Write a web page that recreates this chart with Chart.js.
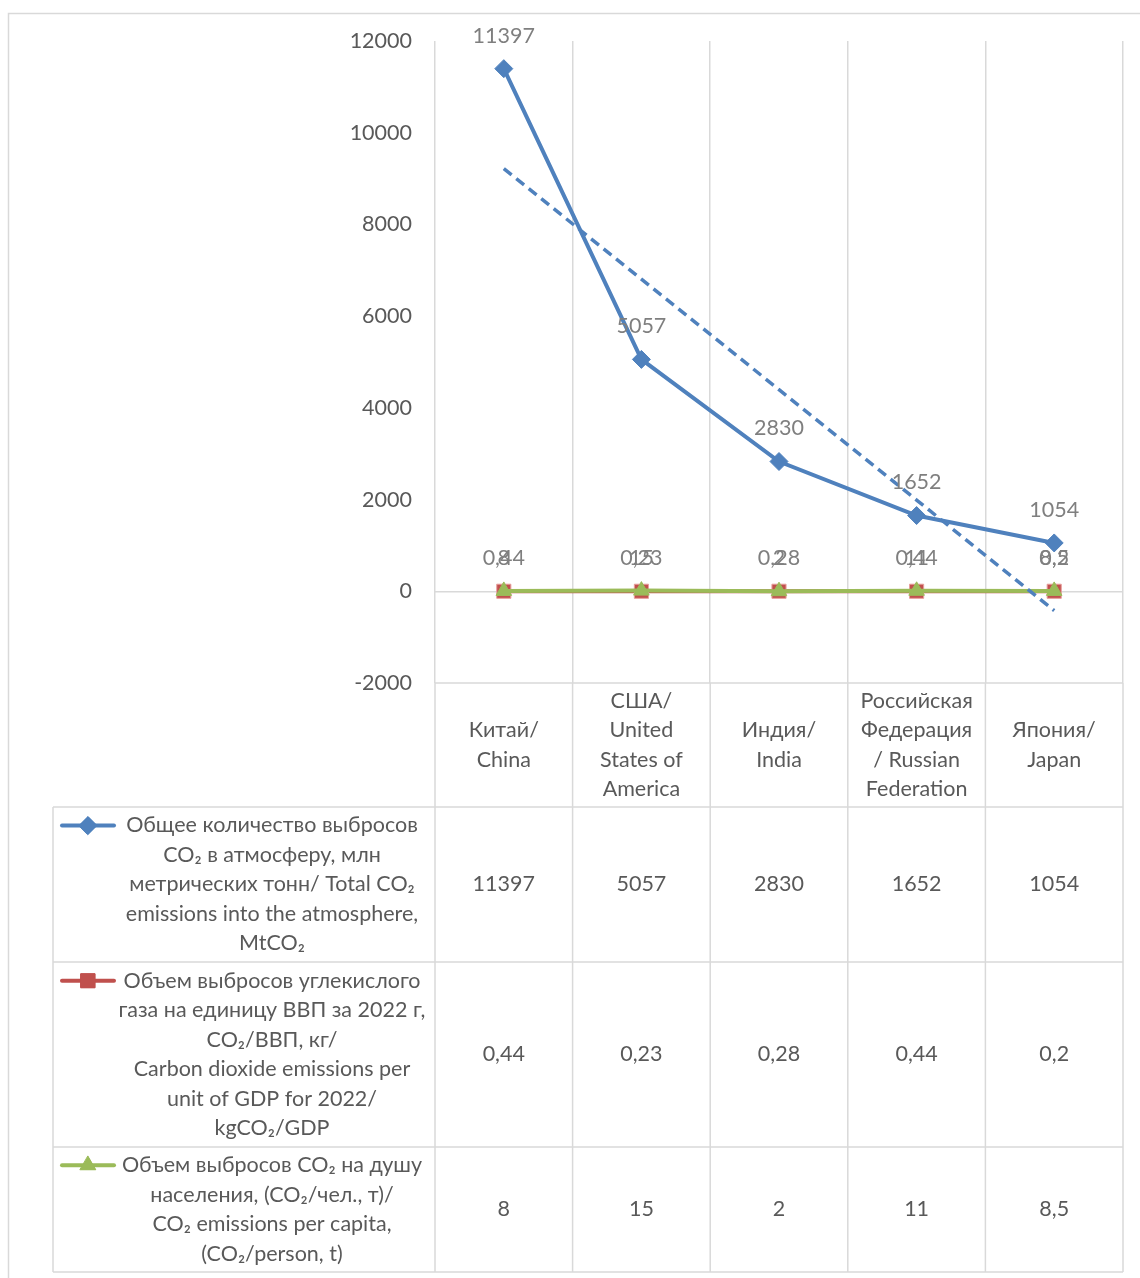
<!DOCTYPE html>
<html lang="ru">
<head>
<meta charset="utf-8">
<title>Выбросы CO₂</title>
<script src="https://cdn.jsdelivr.net/npm/chart.js@4.4.1/dist/chart.umd.min.js"></script>
<style>
  html, body { margin: 0; padding: 0; background: #ffffff; }
  #wrap { width: 1140px; height: 1278px; }
</style>
</head>
<body>
<div id="wrap"><canvas id="chart" width="1140" height="1278"></canvas></div>
<script>
// Countries (category labels, one entry per text line)
const categories = [
  ["Китай/", "China"],
  ["США/", "United", "States of", "America"],
  ["Индия/", "India"],
  ["Российская", "Федерация", "/ Russian", "Federation"],
  ["Япония/", "Japan"]
];

// Series values
const totalEmissions = [11397, 5057, 2830, 1652, 1054];
const emissionsPerGdp = [0.44, 0.23, 0.28, 0.44, 0.2];
const emissionsPerCapita = [8, 15, 2, 11, 8.5];

// Series names as shown in the data table
const totalName = ["Общее количество выбросов", "CO₂ в атмосферу, млн", "метрических тонн/ Total CO₂", "emissions into the atmosphere,", "MtCO₂"];
const gdpName = ["Объем выбросов углекислого", "газа на единицу ВВП за 2022 г,", "CO₂/ВВП, кг/", "Carbon dioxide emissions per", "unit of GDP for 2022/", "kgCO₂/GDP"];
const capitaName = ["Объем выбросов CO₂ на душу", "населения, (CO₂/чел., т)/", "CO₂ emissions per capita,", "(CO₂/person, t)"];

// Value axis
const yMin = -2000;
const yMax = 12000;
const yStep = 2000;

// Linear trend of total emissions (least squares over category index)
function linearTrend(values) {
  const n = values.length;
  const xs = values.map((_, i) => i + 1);
  const mx = xs.reduce((a, b) => a + b, 0) / n;
  const my = values.reduce((a, b) => a + b, 0) / n;
  let num = 0, den = 0;
  xs.forEach((x, i) => { num += (x - mx) * (values[i] - my); den += (x - mx) * (x - mx); });
  const slope = num / den;
  return xs.map(x => my + slope * (x - mx));
}

const BLUE = '#4F81BD', RED = '#C0504D', GREEN = '#9BBB59';
const GRID = '#d9d9d9';
const FONT = 'Lato, "Open Sans", sans-serif';
const FONT_SIZE = 21.5;
const fmt = v => String(v).replace('.', ',');

const seriesRows = [
  { name: totalName, values: totalEmissions, color: BLUE, style: 'rectRot', radius: 9 },
  { name: gdpName, values: emissionsPerGdp, color: RED, style: 'rect', radius: 10 },
  { name: capitaName, values: emissionsPerCapita, color: GREEN, style: 'triangle', radius: 9 }
];

// Data labels above the markers
const valueLabels = {
  id: 'valueLabels',
  afterDatasetsDraw(chart) {
    const ctx = chart.ctx;
    ctx.save();
    ctx.font = FONT_SIZE + 'px ' + FONT;
    ctx.fillStyle = '#7f7f7f';
    ctx.textAlign = 'center';
    ctx.textBaseline = 'middle';
    chart.data.datasets.forEach((ds, di) => {
      if (ds.isTrend) return;
      const meta = chart.getDatasetMeta(di);
      meta.data.forEach((pt, i) => {
        ctx.fillText(fmt(ds.data[i]), pt.x, pt.y - 33);
      });
    });
    ctx.restore();
  }
};

// Data table under the plot, plus the outer frame
const dataTable = {
  id: 'dataTable',
  afterDraw(chart) {
    const ctx = chart.ctx;
    const xs = chart.scales.x;
    const area = chart.chartArea;
    const n = categories.length;
    const colW = (area.right - area.left) / n;
    const tableLeft = 53;
    const rows = [area.bottom, 807, 962, 1147, 1272];
    const lineH = 29.5;

    ctx.save();
    // outer frame
    ctx.strokeStyle = GRID;
    ctx.lineWidth = 1.5;
    ctx.strokeRect(8.5, 13.5, 1200, 1300);

    // horizontal table lines
    ctx.beginPath();
    ctx.moveTo(area.left, rows[0]); ctx.lineTo(area.right, rows[0]);
    for (let r = 1; r < rows.length; r++) {
      ctx.moveTo(tableLeft, rows[r]); ctx.lineTo(area.right, rows[r]);
    }
    // vertical table lines
    ctx.moveTo(tableLeft, rows[1]); ctx.lineTo(tableLeft, rows[rows.length - 1]);
    for (let c = 0; c <= n; c++) {
      const x = area.left + c * colW;
      ctx.moveTo(x, rows[0]); ctx.lineTo(x, rows[rows.length - 1]);
    }
    ctx.stroke();

    ctx.font = FONT_SIZE + 'px ' + FONT;
    ctx.fillStyle = '#595959';
    ctx.textAlign = 'center';
    ctx.textBaseline = 'middle';

    const drawLines = (lines, cx, top, bottom) => {
      const mid = (top + bottom) / 2;
      const first = mid - (lines.length - 1) * lineH / 2;
      lines.forEach((t, k) => ctx.fillText(t, cx, first + k * lineH));
      return first;
    };

    // header row: country names
    categories.forEach((lines, i) => {
      drawLines(lines, xs.getPixelForValue(i), rows[0], rows[1]);
    });

    // series rows
    const labelCx = 272;
    seriesRows.forEach((s, r) => {
      const top = rows[r + 1], bottom = rows[r + 2];
      const firstY = drawLines(s.name, labelCx, top, bottom);
      s.values.forEach((v, i) => {
        ctx.fillText(fmt(v), xs.getPixelForValue(i), (top + bottom) / 2);
      });
      // legend key
      ctx.save();
      ctx.strokeStyle = s.color;
      ctx.lineWidth = 4;
      ctx.lineCap = 'round';
      ctx.beginPath();
      ctx.moveTo(62, firstY); ctx.lineTo(114, firstY);
      ctx.stroke();
      ctx.fillStyle = s.color;
      ctx.lineWidth = 1;
      Chart.helpers.drawPoint(ctx, { pointStyle: s.style, radius: s.radius, rotation: 0, borderWidth: 1 }, 88, firstY);
      ctx.fill();
      ctx.restore();
    });
    ctx.restore();
  }
};

const trend = linearTrend(totalEmissions);

new Chart(document.getElementById('chart'), {
  type: 'line',
  data: {
    labels: categories,
    datasets: [
      {
        label: 'trend', isTrend: true, data: trend, order: 0,
        borderColor: BLUE, borderWidth: 3.5, borderDash: [10, 6],
        pointRadius: 0, fill: false
      },
      {
        label: totalName.join(' '), data: totalEmissions, order: 1,
        borderColor: BLUE, backgroundColor: BLUE, borderWidth: 4,
        pointStyle: 'rectRot', pointRadius: 9, pointBorderWidth: 1, fill: false
      },
      {
        label: capitaName.join(' '), data: emissionsPerCapita, order: 2,
        borderColor: GREEN, backgroundColor: GREEN, borderWidth: 4,
        pointStyle: 'triangle', pointRadius: 9, pointBorderWidth: 1, fill: false
      },
      {
        label: gdpName.join(' '), data: emissionsPerGdp, order: 3,
        borderColor: RED, backgroundColor: RED, borderWidth: 4,
        pointStyle: 'rect', pointRadius: 10, pointBorderColor: '#e8a09e', pointBorderWidth: 1, fill: false
      }
    ]
  },
  options: {
    responsive: false,
    animation: false,
    devicePixelRatio: 1,
    layout: { padding: { left: 0, top: 41, right: 17, bottom: 595 } },
    plugins: { legend: { display: false }, tooltip: { enabled: false } },
    elements: { line: { tension: 0 } },
    scales: {
      x: {
        type: 'category',
        offset: true,
        grid: { offset: true, color: GRID, lineWidth: 1.5, drawTicks: false },
        border: { display: false },
        ticks: { display: false },
        afterFit(scale) { scale.height = 0; }
      },
      y: {
        min: yMin, max: yMax,
        ticks: {
          stepSize: yStep, padding: 23,
          color: '#595959', font: { family: FONT, size: FONT_SIZE },
          callback: v => String(v)
        },
        grid: {
          drawTicks: false,
          lineWidth: 1.5,
          color: c => (c.tick && c.tick.value === 0) ? GRID : 'rgba(0,0,0,0)'
        },
        border: { display: false },
        afterFit(scale) { scale.width = 435; }
      }
    }
  },
  plugins: [valueLabels, dataTable]
});
</script>
</body>
</html>
